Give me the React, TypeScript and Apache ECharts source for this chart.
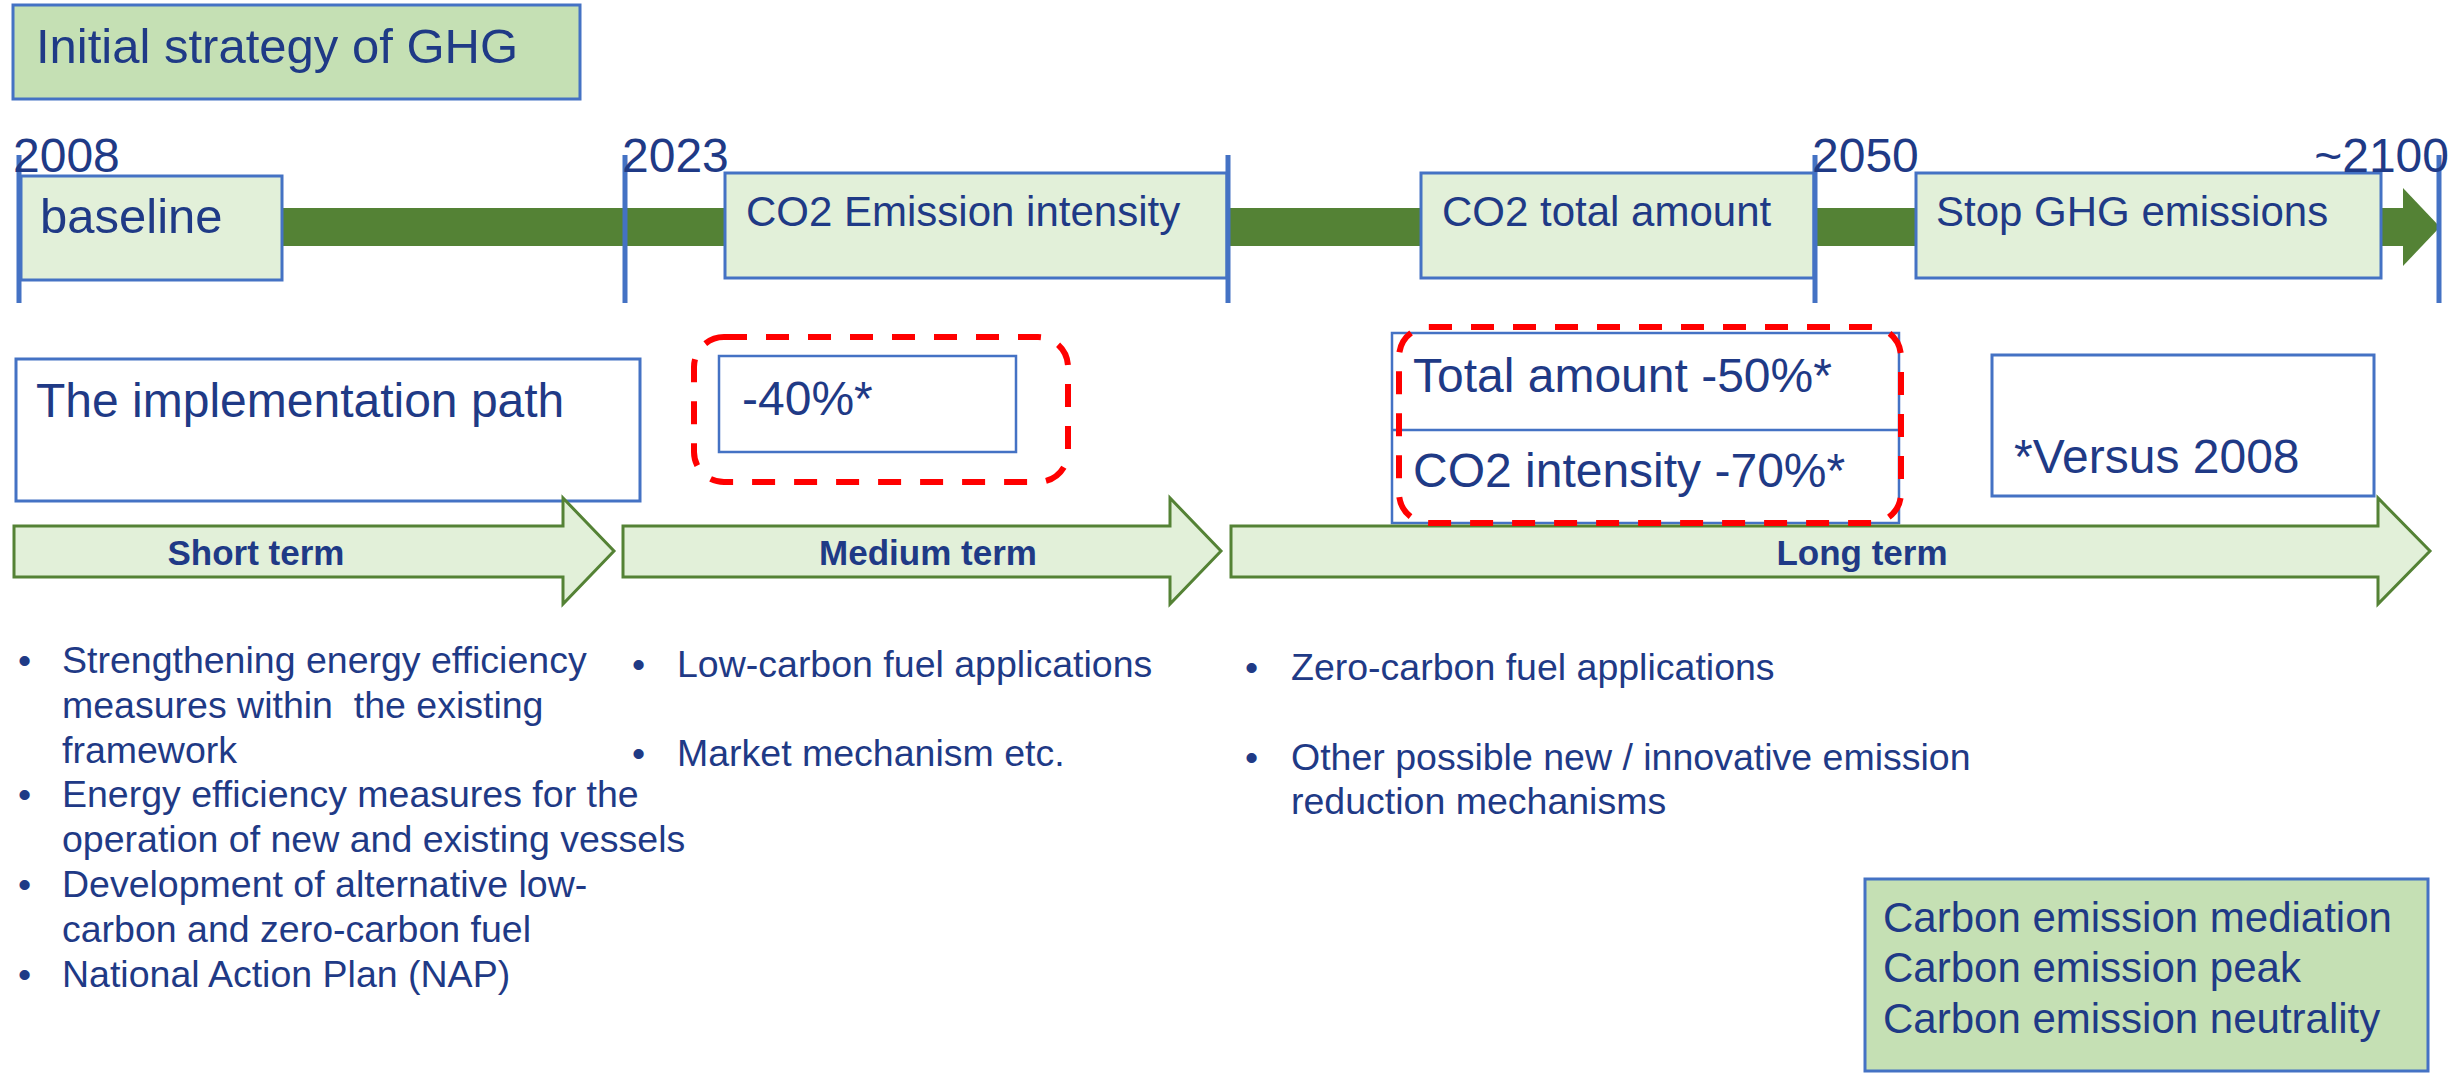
import React, { useEffect, useRef } from 'react';
import * as echarts from 'echarts';

// ---------- content ----------
const title = 'Initial strategy of GHG';
const milestoneYears = ['2008', '2023', '2050', '~2100'];
const timelineGoals = ['baseline', 'CO2 Emission intensity', 'CO2 total amount', 'Stop GHG emissions'];
const phases = ['Short term', 'Medium term', 'Long term'];
const pathTitle = 'The implementation path';
const mediumTargets = ['-40%*'];
const longTargets = ['Total amount -50%*', 'CO2 intensity -70%*'];
const footnote = '*Versus 2008';
const shortTermItems = [
  ['Strengthening energy efficiency', 'measures within  the existing', 'framework'],
  ['Energy efficiency measures for the', 'operation of new and existing vessels'],
  ['Development of alternative low-', 'carbon and zero-carbon fuel'],
  ['National Action Plan (NAP)'],
];
const mediumTermItems = [['Low-carbon fuel applications'], ['Market mechanism etc.']];
const longTermItems = [['Zero-carbon fuel applications'], ['Other possible new / innovative emission', 'reduction mechanisms']];
const carbonStages = ['Carbon emission mediation', 'Carbon emission peak', 'Carbon emission neutrality'];

// ---------- layout & style ----------
const FONT = '"Liberation Sans", Arial, Helvetica, sans-serif';
const TEXT = '#1F3A86';
const BLUE = '#4472C4';
const DARKGREEN = '#548235';
const PALE = '#E2F0D9';
const LIGHT = '#C5E0B4';
const RED = '#FF0000';
const RED_DASH = [23, 19];

const milestoneLineXs = [19, 625, 1228, 1815, 2439];
const yearLabelPos = [
  { x: 13, align: 'left' },
  { x: 622, align: 'left' },
  { x: 1812, align: 'left' },
  { x: 2449, align: 'right' },
];
const goalBoxLayout = [
  { x0: 21, y0: 176, x1: 282, y1: 280, tx: 40, base: 233, size: 49 },
  { x0: 725, y0: 173, x1: 1227, y1: 278, tx: 746, base: 226, size: 42 },
  { x0: 1421, y0: 173, x1: 1814, y1: 278, tx: 1442, base: 226, size: 42 },
  { x0: 1916, y0: 173, x1: 2381, y1: 278, tx: 1936, base: 226, size: 42 },
];
const phaseArrowLayout = [
  { x0: 14, xb: 563, tip: 614, cx: 256 },
  { x0: 623, xb: 1170, tip: 1221, cx: 928 },
  { x0: 1231, xb: 2378, tip: 2430, cx: 1862 },
];

function txt(text: string, x: number, baseline: number, size: number, extra: any = {}) {
  return {
    type: 'text',
    x,
    y: baseline - 0.35 * size,
    silent: true,
    style: {
      text,
      fill: extra.fill || TEXT,
      fontSize: size,
      fontFamily: FONT,
      fontWeight: extra.bold ? 'bold' : 'normal',
      align: extra.align || 'left',
      verticalAlign: 'middle',
    },
  };
}

function box(x0: number, y0: number, x1: number, y1: number, fill: string, extra: any = {}) {
  return {
    type: 'rect',
    silent: true,
    shape: { x: x0, y: y0, width: x1 - x0, height: y1 - y0, r: extra.r || 0 },
    style: {
      fill,
      stroke: extra.stroke || BLUE,
      lineWidth: extra.lw || 2.5,
      lineDash: extra.dash || null,
    },
  };
}

function bulletList(items: string[][], bulletX: number, textX: number, starts: number[], lh: number, size: number) {
  const out: any[] = [];
  items.forEach((lines, i) => {
    const b0 = starts[i];
    out.push(txt('•', bulletX, b0, size));
    lines.forEach((line, j) => out.push(txt(line, textX, b0 + j * lh, size)));
  });
  return out;
}

function buildGraphics() {
  const g: any[] = [];
  // title
  g.push(box(13, 5, 580, 99, LIGHT, { lw: 3 }));
  g.push(txt(title, 36, 63, 49));

  // timeline bar + arrowhead
  g.push({ type: 'rect', silent: true, shape: { x: 20, y: 208, width: 2385, height: 38 }, style: { fill: DARKGREEN } });
  g.push({ type: 'polygon', silent: true, shape: { points: [[2403, 188], [2440, 227], [2403, 266]] }, style: { fill: DARKGREEN } });

  // goal boxes
  goalBoxLayout.forEach((b) => g.push(box(b.x0, b.y0, b.x1, b.y1, PALE, { lw: 3 })));

  // milestone lines
  milestoneLineXs.forEach((x) =>
    g.push({ type: 'line', silent: true, shape: { x1: x, y1: 155, x2: x, y2: 303 }, style: { stroke: BLUE, lineWidth: 5 } })
  );

  // goal texts
  timelineGoals.forEach((t, i) => {
    const b = goalBoxLayout[i];
    g.push(txt(t, b.tx, b.base, b.size));
  });

  // year labels
  milestoneYears.forEach((y, i) => g.push(txt(y, yearLabelPos[i].x, 172, 48, { align: yearLabelPos[i].align })));

  // implementation path box
  g.push(box(16, 359, 640, 501, '#FFFFFF', { lw: 3 }));
  g.push(txt(pathTitle, 36, 417, 48));

  // medium target
  g.push(box(719, 356, 1016, 452, '#FFFFFF'));
  g.push(txt(mediumTargets[0], 742, 415, 48));
  g.push(box(694, 337, 1068, 482, 'none', { stroke: RED, lw: 6, dash: RED_DASH, r: 30 }));

  // long targets
  g.push(box(1392, 333, 1899, 523, '#FFFFFF'));
  g.push({ type: 'line', silent: true, shape: { x1: 1392, y1: 430, x2: 1899, y2: 430 }, style: { stroke: BLUE, lineWidth: 2.5 } });
  g.push(txt(longTargets[0], 1413, 392, 48));
  g.push(txt(longTargets[1], 1413, 487, 48));

  // footnote
  g.push(box(1992, 355, 2374, 496, '#FFFFFF', { lw: 3 }));
  g.push(txt(footnote, 2014, 473, 48));

  // phase arrows
  phaseArrowLayout.forEach((a, i) => {
    g.push({
      type: 'polygon',
      silent: true,
      shape: {
        points: [[a.x0, 526], [a.xb, 526], [a.xb, 498], [a.tip, 551], [a.xb, 604], [a.xb, 577], [a.x0, 577]],
      },
      style: { fill: PALE, stroke: DARKGREEN, lineWidth: 3 },
    });
    g.push(txt(phases[i], a.cx, 565, 35, { bold: true, align: 'center' }));
  });

  // red dashed frame for long targets (on top of arrow edge)
  g.push(box(1399, 327, 1901, 523, 'none', { stroke: RED, lw: 6, dash: RED_DASH, r: 30 }));

  // bullets
  g.push(...bulletList(shortTermItems, 18, 62, [673, 807, 897, 987], 45, 37.5));
  g.push(...bulletList(mediumTermItems, 632, 677, [677, 766], 45, 37.5));
  g.push(...bulletList(longTermItems, 1245, 1291, [680, 770], 44, 37.5));

  // carbon stages box
  g.push(box(1865, 879, 2428, 1071, LIGHT, { lw: 3 }));
  carbonStages.forEach((t, i) => g.push(txt(t, 1883, 932 + i * 50.5, 42)));

  return g;
}

export default function App() {
  const ref = useRef<HTMLDivElement>(null);
  useEffect(() => {
    if (!ref.current) return;
    const chart = echarts.init(ref.current, undefined, { renderer: 'svg' });
    chart.setOption({
      animation: false,
      backgroundColor: '#FFFFFF',
      graphic: { elements: buildGraphics() },
    });
    return () => chart.dispose();
  }, []);
  return (
    <div
      ref={ref}
      style={{ position: 'fixed', left: 0, top: 0, width: 2463, height: 1075, background: '#FFFFFF' }}
    />
  );
}
